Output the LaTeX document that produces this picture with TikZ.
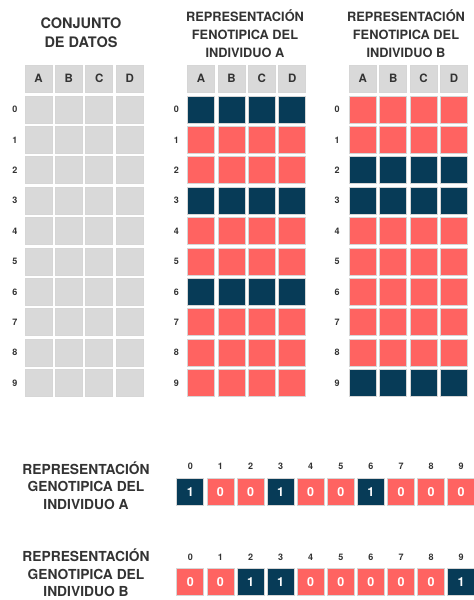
\documentclass[tikz,border=0pt]{standalone}
\usepackage{fontspec}
\setmainfont{TeX Gyre Heros}
\definecolor{navy}{HTML}{073B57}
\definecolor{coral}{HTML}{FF6361}
\definecolor{cellgray}{HTML}{D9D9D9}
\definecolor{ink}{HTML}{333333}

\begin{document}
\begin{tikzpicture}[x=1pt,y=-1pt,font=\bfseries]
  \tikzset{cell/.style={draw=black!16, line width=0.7pt, minimum size=27pt, inner sep=0pt},
    head/.style={cell, fill=cellgray, text=ink, font=\fontsize{11.5}{12}\bfseries},
    title/.style={align=center, text=ink, font=\fontsize{12.8}{18}\bfseries},
    gtitle/.style={title, inner sep=0pt, font=\fontsize{13.8}{17.5}\bfseries},
    idx/.style={text=ink, font=\fontsize{9}{10}\bfseries},
    bit/.style={cell, text=white, font=\fontsize{12.5}{13}\bfseries},
    bit0/.style={fill=coral}, bit1/.style={fill=navy}}
  \useasboundingbox (0,0) rectangle (474,600);

  % titles
  \node[title, font=\fontsize{14.5}{19}\bfseries] (t-d) at (81,32.5) {CONJUNTO\\DE DATOS};
  \node[title] (t-a) at (245,34) {REPRESENTACIÓN\\FENOTIPICA DEL\\INDIVIDUO A};
  \node[title] (t-b) at (406,34) {REPRESENTACIÓN\\FENOTIPICA DEL\\INDIVIDUO B};

  % column headers
  \foreach \g/\x in {d/38.5, a/201, b/362.8}
    \foreach \c [count=\j from 0] in {A,B,C,D}
      \node[head] (\g-\c) at (\x+30.4*\j,78.5) {\c};

  % rows of the three tables
  \foreach \i/\ca/\cb in {0/navy/coral, 1/coral/coral, 2/coral/navy, 3/navy/navy, 4/coral/coral,
      5/coral/coral, 6/navy/coral, 7/coral/coral, 8/coral/coral, 9/coral/navy} {
    \node[idx] (rd-\i) at (15,109.5+30.4*\i) {\i};
    \node[idx] (ra-\i) at (176.5,109.5+30.4*\i) {\i};
    \node[idx] (rb-\i) at (337,109.5+30.4*\i) {\i};
    \foreach \j in {0,...,3} {
      \node[cell, fill=cellgray] (d-\i-\j) at (38.5+30.4*\j,109.5+30.4*\i) {};
      \node[cell, fill=\ca] (a-\i-\j) at (201+30.4*\j,109.5+30.4*\i) {};
      \node[cell, fill=\cb] (b-\i-\j) at (362.8+30.4*\j,109.5+30.4*\i) {};
    }
  }

  % genotypes
  \node[gtitle] (g-a) at (86,485.5) {REPRESENTACIÓN\\GENOTIPICA DEL\\INDIVIDUO A};
  \node[gtitle] (g-b) at (86,573) {REPRESENTACIÓN\\GENOTIPICA DEL\\INDIVIDUO B};
  \foreach \k/\va/\vb in {0/1/0, 1/0/0, 2/0/1, 3/1/1, 4/0/0, 5/0/0, 6/1/0, 7/0/0, 8/0/0, 9/0/1} {
    \node[idx] (ia-\k) at (190.3+30.1*\k,466) {\k};
    \node[bit, bit\va] (ga-\k) at (190.3+30.1*\k,492.3) {\va};
    \node[idx] (ib-\k) at (190.3+30.1*\k,557.7) {\k};
    \node[bit, bit\vb] (gb-\k) at (190.3+30.1*\k,581.7) {\vb};
  }
\end{tikzpicture}
\end{document}
